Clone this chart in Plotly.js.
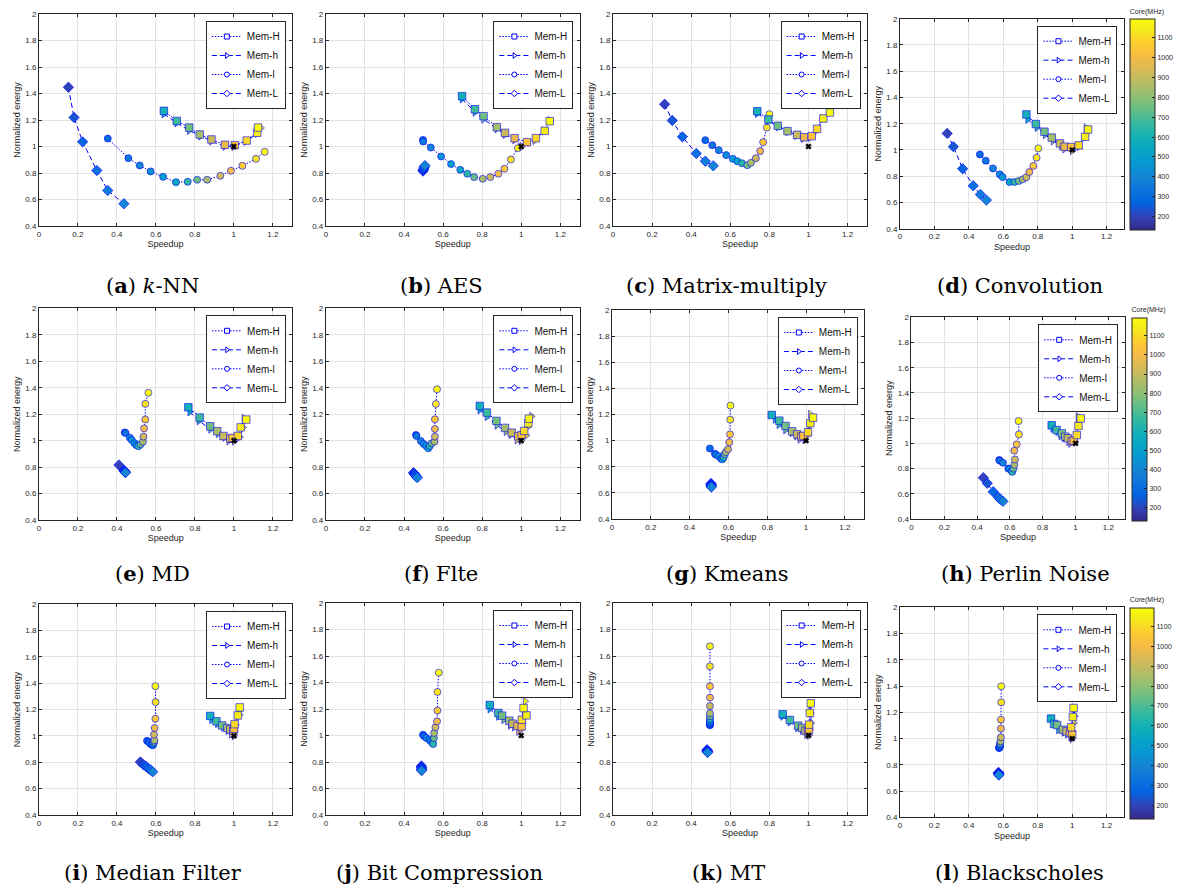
<!DOCTYPE html>
<html><head><meta charset="utf-8">
<script src="https://cdn.plot.ly/plotly-3.0.1.min.js"></script>
<style>html,body{margin:0;padding:0;background:#fff}</style>
</head><body><div id="chart" style="width:1177px;height:888px"></div>
<script>
// ---------------- DATA ----------------
const seriesNames = ['Mem-H', 'Mem-h', 'Mem-l', 'Mem-L'];
// core frequency (MHz) of each point, per memory level (ascending)
const freqH = [600, 680, 760, 840, 910, 980, 1040, 1100, 1150, 1190];
const freqh = [600, 680, 760, 840, 910, 980, 1040, 1100, 1150, 1190];
const freql = [300, 350, 400, 450, 500, 550, 650, 750, 850, 920, 990, 1060, 1130, 1190];
const freqL = [200, 240, 280, 320, 360, 400];
const colorbarTicks = [200, 300, 400, 500, 600, 700, 800, 900, 1000, 1100];
const refX = [1];
const refY = [1];

const captionLetters = ['a','b','c','d','e','f','g','h','i','j','k','l'];
const captionNames = ['<i>k</i>-NN','AES','Matrix-multiply','Convolution','MD','Flte','Kmeans','Perlin Noise','Median Filter','Bit Compression','MT','Blackscholes'];

// (a) k-NN
const knnHx = [0.641,0.707,0.771,0.825,0.885,0.954,1.005,1.066,1.12,1.124];
const knnHy = [1.269,1.193,1.143,1.09,1.053,1.013,1.01,1.045,1.103,1.143];
const knnhx = [0.641,0.707,0.771,0.829,0.885,0.954,1.0,1.063,1.12,1.139];
const knnhy = [1.246,1.178,1.121,1.078,1.04,1.0,1.0,1.04,1.098,1.14];
const knnlx = [0.353,0.459,0.517,0.573,0.637,0.703,0.763,0.812,0.863,0.931,0.985,1.044,1.114,1.158];
const knnly = [1.06,0.912,0.857,0.812,0.771,0.731,0.734,0.749,0.749,0.779,0.817,0.854,0.907,0.96];
const knnLx = [0.151,0.18,0.224,0.297,0.353,0.436];
const knnLy = [1.447,1.219,1.035,0.819,0.668,0.568];
// (b) AES
const aesHx = [0.697,0.763,0.807,0.875,0.917,0.966,1.029,1.075,1.12,1.146];
const aesHy = [1.38,1.281,1.229,1.146,1.103,1.063,1.033,1.063,1.118,1.191];
const aeshx = [0.697,0.763,0.807,0.875,0.917,0.966,1.003,1.069,1.117,1.147];
const aeshy = [1.359,1.259,1.206,1.133,1.09,1.05,1.0,1.045,1.118,1.196];
const aeslx = [0.497,0.498,0.537,0.59,0.641,0.688,0.724,0.759,0.803,0.842,0.883,0.914,0.947,0.983];
const aesly = [1.05,1.038,0.992,0.925,0.867,0.824,0.794,0.769,0.756,0.769,0.794,0.832,0.902,0.987];
const aesLx = [0.497,0.498,0.5,0.502,0.504,0.507];
const aesLy = [0.815,0.822,0.83,0.838,0.846,0.856];
// (c) Matrix-multiply
const mmHx = [0.738,0.795,0.843,0.893,0.942,0.978,1.017,1.044,1.076,1.11];
const mmHy = [1.266,1.204,1.156,1.116,1.088,1.07,1.078,1.133,1.211,1.256];
const mmhx = [0.738,0.795,0.846,0.897,0.939,0.973,1.01,1.042,1.073,1.108];
const mmhy = [1.249,1.196,1.148,1.113,1.083,1.06,1.068,1.121,1.211,1.279];
const mmlx = [0.472,0.508,0.541,0.579,0.613,0.636,0.66,0.687,0.706,0.731,0.753,0.768,0.787,0.8];
const mmly = [1.048,1.01,0.972,0.935,0.907,0.889,0.874,0.859,0.877,0.912,0.965,1.033,1.143,1.244];
const mmLx = [0.264,0.303,0.355,0.426,0.472,0.513];
const mmLy = [1.319,1.196,1.073,0.947,0.889,0.854];
// (d) Convolution
const convHx = [0.734,0.789,0.839,0.881,0.929,0.956,0.994,1.038,1.075,1.092];
const convHy = [1.271,1.197,1.139,1.094,1.05,1.025,1.022,1.035,1.1,1.156];
const convhx = [0.741,0.795,0.843,0.889,0.937,0.956,1.0,1.038,1.073,1.08];
const convhy = [1.233,1.17,1.116,1.068,1.032,1.007,0.994,1.025,1.1,1.168];
const convlx = [0.464,0.498,0.54,0.579,0.596,0.636,0.665,0.69,0.713,0.734,0.751,0.774,0.793,0.803];
const convly = [0.966,0.918,0.859,0.814,0.793,0.756,0.756,0.764,0.776,0.792,0.832,0.878,0.941,1.012];
const convLx = [0.274,0.31,0.364,0.425,0.467,0.502];
const convLy = [1.126,1.025,0.857,0.727,0.661,0.618];
// (e) MD
const mdHx = [0.766,0.824,0.878,0.914,0.946,0.981,0.993,1.02,1.034,1.063];
const mdHy = [1.252,1.174,1.108,1.071,1.035,1.015,1.02,1.035,1.1,1.159];
const mdhx = [0.773,0.82,0.88,0.919,0.953,0.973,1.002,1.03,1.047,1.051];
const mdhy = [1.217,1.149,1.086,1.053,1.025,0.997,0.995,1.028,1.1,1.169];
const mdlx = [0.44,0.444,0.466,0.476,0.49,0.5,0.51,0.522,0.533,0.536,0.539,0.545,0.545,0.561];
const mdly = [1.062,1.058,1.022,1.004,0.98,0.965,0.958,0.972,0.992,1.03,1.092,1.16,1.278,1.362];
const mdLx = [0.41,0.436,0.438,0.44,0.442,0.444];
const mdLy = [0.816,0.775,0.77,0.766,0.762,0.758];
// (f) Flte
const flteHx = [0.788,0.824,0.873,0.917,0.951,0.985,1.002,1.015,1.036,1.039];
const flteHy = [1.262,1.212,1.149,1.096,1.06,1.033,1.043,1.073,1.131,1.166];
const fltehx = [0.788,0.825,0.875,0.922,0.947,0.978,1.0,1.027,1.036,1.053];
const fltehy = [1.232,1.181,1.116,1.068,1.045,1.005,1.0,1.04,1.106,1.184];
const fltelx = [0.461,0.464,0.486,0.5,0.514,0.524,0.532,0.542,0.556,0.558,0.558,0.558,0.563,0.569];
const fltely = [1.043,1.035,0.997,0.975,0.96,0.942,0.96,0.98,0.992,1.03,1.088,1.161,1.277,1.388];
const flteLx = [0.448,0.452,0.456,0.46,0.464,0.468];
const flteLy = [0.757,0.75,0.742,0.735,0.727,0.72];
// (g) Kmeans
const kmHx = [0.823,0.862,0.894,0.928,0.954,0.976,0.986,1.01,1.022,1.036];
const kmHy = [1.196,1.153,1.112,1.071,1.048,1.031,1.036,1.064,1.133,1.176];
const kmhx = [0.84,0.86,0.894,0.928,0.951,0.968,0.993,1.01,1.019,1.022];
const kmhy = [1.163,1.122,1.082,1.061,1.036,1.01,1.005,1.043,1.117,1.202];
const kmlx = [0.504,0.53,0.536,0.55,0.562,0.568,0.575,0.58,0.586,0.598,0.604,0.608,0.609,0.61];
const kmly = [0.94,0.9,0.892,0.88,0.862,0.857,0.872,0.895,0.912,0.934,0.987,1.048,1.161,1.268];
const kmLx = [0.51,0.51,0.511,0.511,0.511,0.512];
const kmLy = [0.672,0.665,0.66,0.655,0.65,0.645];
// (h) Perlin Noise
const pnHx = [0.855,0.885,0.917,0.938,0.954,0.978,0.99,1.008,1.018,1.032];
const pnHy = [1.143,1.106,1.079,1.053,1.04,1.019,1.021,1.066,1.138,1.198];
const pnhx = [0.861,0.891,0.911,0.933,0.958,0.97,0.998,1.006,1.016,1.016];
const pnhy = [1.119,1.093,1.058,1.042,1.013,1.0,1.011,1.058,1.145,1.212];
const pnlx = [0.535,0.54,0.558,0.59,0.6,0.61,0.615,0.622,0.627,0.631,0.627,0.642,0.655,0.653];
const pnly = [0.868,0.862,0.846,0.8,0.797,0.783,0.774,0.8,0.83,0.872,0.942,0.992,1.071,1.177];
const pnLx = [0.438,0.462,0.498,0.53,0.542,0.558];
const pnLy = [0.728,0.683,0.617,0.572,0.556,0.54];
// (i) Median Filter
const mfHx = [0.878,0.91,0.939,0.966,0.981,0.997,1.0,1.003,1.02,1.029];
const mfHy = [1.151,1.11,1.079,1.059,1.049,1.039,1.054,1.089,1.155,1.216];
const mfhx = [0.885,0.915,0.946,0.969,0.986,1.0,1.003,1.01,1.029,1.032];
const mfhy = [1.122,1.092,1.064,1.039,1.014,1.0,1.034,1.085,1.16,1.198];
const mflx = [0.554,0.562,0.568,0.576,0.583,0.586,0.588,0.59,0.592,0.59,0.593,0.597,0.598,0.597];
const mfly = [0.963,0.955,0.944,0.934,0.929,0.934,0.945,0.954,0.966,1.009,1.06,1.13,1.256,1.377];
const mfLx = [0.52,0.537,0.551,0.563,0.573,0.583];
const mfLy = [0.802,0.78,0.766,0.751,0.741,0.728];
// (j) Bit Compression
const bcHx = [0.839,0.883,0.902,0.939,0.956,0.981,1.002,1.003,1.027,1.012];
const bcHy = [1.23,1.17,1.15,1.112,1.089,1.072,1.069,1.119,1.152,1.207];
const bchx = [0.839,0.883,0.91,0.944,0.964,0.986,0.998,1.007,1.015,1.02];
const bchy = [1.2,1.145,1.119,1.077,1.064,1.031,1.044,1.094,1.17,1.258];
const bclx = [0.497,0.503,0.515,0.529,0.537,0.546,0.549,0.553,0.554,0.561,0.569,0.571,0.571,0.578];
const bcly = [1.006,0.994,0.981,0.969,0.956,0.943,0.936,0.981,1.019,1.062,1.107,1.188,1.329,1.474];
const bcLx = [0.489,0.489,0.49,0.49,0.49,0.49];
const bcLy = [0.77,0.762,0.755,0.748,0.742,0.735];
// (k) MT
const mtHx = [0.868,0.905,0.947,0.968,0.985,0.998,1.003,1.003,1.007,1.012];
const mtHy = [1.16,1.117,1.074,1.057,1.036,1.031,1.045,1.082,1.17,1.243];
const mthx = [0.868,0.905,0.944,0.968,0.99,1.003,1.007,1.014,1.012,1.012];
const mthy = [1.145,1.102,1.057,1.039,1.006,1.001,1.044,1.094,1.17,1.233];
const mtlx = [0.496,0.496,0.496,0.496,0.496,0.496,0.496,0.496,0.496,0.496,0.496,0.496,0.496,0.496];
const mtly = [1.077,1.082,1.087,1.094,1.102,1.112,1.127,1.146,1.168,1.222,1.286,1.371,1.522,1.673];
const mtLx = [0.481,0.482,0.482,0.483,0.483,0.484];
const mtLy = [0.892,0.888,0.884,0.88,0.876,0.872];
// (l) Blackscholes
const bsHx = [0.877,0.895,0.912,0.946,0.967,0.987,1.0,0.994,1.004,1.008];
const bsHy = [1.152,1.111,1.103,1.067,1.055,1.043,1.03,1.086,1.164,1.233];
const bshx = [0.891,0.92,0.952,0.971,0.992,1.0,1.004,1.01,1.015,1.01];
const bshy = [1.113,1.067,1.047,1.035,1.01,0.999,1.055,1.119,1.17,1.233];
const bslx = [0.575,0.577,0.578,0.579,0.58,0.58,0.581,0.582,0.584,0.586,0.586,0.586,0.588,0.588];
const bsly = [0.928,0.93,0.932,0.934,0.94,0.948,0.956,0.966,0.979,1.01,1.076,1.144,1.276,1.398];
const bsLx = [0.572,0.572,0.573,0.573,0.574,0.574];
const bsLy = [0.742,0.738,0.734,0.73,0.726,0.722];

// ---------------- TABLE FOR PLOTTING ----------------
const panelData = [
  [[knnHx,knnHy],[knnhx,knnhy],[knnlx,knnly],[knnLx,knnLy]],
  [[aesHx,aesHy],[aeshx,aeshy],[aeslx,aesly],[aesLx,aesLy]],
  [[mmHx,mmHy],[mmhx,mmhy],[mmlx,mmly],[mmLx,mmLy]],
  [[convHx,convHy],[convhx,convhy],[convlx,convly],[convLx,convLy]],
  [[mdHx,mdHy],[mdhx,mdhy],[mdlx,mdly],[mdLx,mdLy]],
  [[flteHx,flteHy],[fltehx,fltehy],[fltelx,fltely],[flteLx,flteLy]],
  [[kmHx,kmHy],[kmhx,kmhy],[kmlx,kmly],[kmLx,kmLy]],
  [[pnHx,pnHy],[pnhx,pnhy],[pnlx,pnly],[pnLx,pnLy]],
  [[mfHx,mfHy],[mfhx,mfhy],[mflx,mfly],[mfLx,mfLy]],
  [[bcHx,bcHy],[bchx,bchy],[bclx,bcly],[bcLx,bcLy]],
  [[mtHx,mtHy],[mthx,mthy],[mtlx,mtly],[mtLx,mtLy]],
  [[bsHx,bsHy],[bshx,bshy],[bslx,bsly],[bsLx,bsLy]]
];
const seriesFreq = [freqH, freqh, freql, freqL];

// ---------------- STYLE / LAYOUT ----------------
const W = 1177, H = 888;
const BLUE = 'rgb(0,0,255)';
const symbols = ['square', 'triangle-right', 'circle', 'diamond'];
const sizes = [7.5, 7, 7, 8];
const dashes = ['1.5px,1.5px', '5px,3px', '1.5px,1.5px', '5px,3px'];
// MATLAB parula colormap (sampled)
const parula = [
  [0/63, 'rgb(53,42,135)'], [4/63, 'rgb(50,67,186)'], [8/63, 'rgb(3,99,225)'], [12/63, 'rgb(13,117,220)'],
  [16/63, 'rgb(20,133,212)'], [20/63, 'rgb(9,152,209)'], [24/63, 'rgb(6,167,198)'], [28/63, 'rgb(21,177,180)'],
  [32/63, 'rgb(56,185,158)'], [36/63, 'rgb(101,190,134)'], [40/63, 'rgb(146,191,115)'], [44/63, 'rgb(183,189,100)'],
  [48/63, 'rgb(217,186,86)'], [52/63, 'rgb(248,187,68)'], [56/63, 'rgb(252,206,46)'], [60/63, 'rgb(245,235,24)'],
  [1, 'rgb(249,251,14)']
];
// plot boxes in pixels: [left, right, top, bottom]
const boxes = [
  [39.3, 294.8, 14, 226], [328.7, 584.8, 14, 226], [618.3, 874.5, 14, 226], [907.7, 1133.5, 18.7, 228.7],
  [39.3, 295, 308.3, 520], [328.7, 584.8, 308.3, 520], [617.3, 871.7, 310, 519], [919.3, 1134.3, 317.3, 519],
  [39.3, 295, 604, 815], [328.7, 584.8, 603, 815], [618.3, 874.5, 603, 815], [907.7, 1133.5, 607.3, 817.3]
];
const cbBoxes = [[1140, 1165, 18.3, 229.3], [1141.7, 1156.7, 317, 520], [1140, 1164, 607, 818]];
const cbTitleRoom = 12.5;
const captionPos = [[154, 285], [445, 285], [733, 285], [1029, 285],
                    [154, 573], [445, 573], [734, 573], [1034, 573],
                    [154, 872], [443, 872], [735, 872], [1028, 872]];

const FONT = 'Liberation Sans, Arial, Helvetica, sans-serif';
const INK = '#262626';
const traces = [];
const layout = {
  width: W, height: H, margin: {l: 0, r: 0, t: 0, b: 0},
  paper_bgcolor: 'white', plot_bgcolor: 'white',
  font: {family: FONT, size: 8, color: INK},
  annotations: []
};
const px2x = p => p / W;
const px2y = p => 1 - p / H;

for (let r = 0; r < 3; r++) {
  const cb = cbBoxes[r];
  const key = r === 0 ? 'coloraxis' : 'coloraxis' + (r + 1);
  layout[key] = {
    colorscale: parula, cmin: 133, cmax: 1196,
    colorbar: {
      x: px2x(cb[0]), xanchor: 'left', xpad: 0, ypad: 0,
      thickness: cb[1] - cb[0], thicknessmode: 'pixels',
      len: (cb[3] - cb[2] + cbTitleRoom) / H, lenmode: 'fraction',
      y: px2y(cb[2] - cbTitleRoom), yanchor: 'top',
      outlinewidth: 1, outlinecolor: INK,
      tickvals: colorbarTicks, ticks: 'inside', ticklen: 3, tickcolor: INK,
      tickfont: {family: FONT, size: 7, color: INK},
      title: {text: 'Core(MHz)', side: 'top', font: {family: FONT, size: 7, color: INK}}
    }
  };
}

panelData.forEach((series, i) => {
  const s = i === 0 ? '' : String(i + 1);
  const b = boxes[i];
  const row = Math.floor(i / 4);
  const cax = row === 0 ? 'coloraxis' : 'coloraxis' + (row + 1);
  const axCommon = {
    showline: true, mirror: 'ticks', linecolor: INK, linewidth: 1,
    ticks: 'inside', ticklen: 3, tickcolor: INK, tickwidth: 1,
    showgrid: true, gridcolor: '#e3e3e3', gridwidth: 1, zeroline: false,
    tickfont: {family: FONT, size: 8, color: INK}, automargin: false, fixedrange: true
  };
  layout['xaxis' + s] = Object.assign({}, axCommon, {
    domain: [px2x(b[0]), px2x(b[1])], anchor: 'y' + s,
    range: [0, 1.3], tick0: 0, dtick: 0.2,
    title: {text: 'Speedup', font: {family: FONT, size: 9, color: INK}, standoff: 3}
  });
  layout['yaxis' + s] = Object.assign({}, axCommon, {
    domain: [px2y(b[3]), px2y(b[2])], anchor: 'x' + s,
    range: [0.4, 2], tick0: 0.4, dtick: 0.2,
    title: {text: 'Normalized energy', font: {family: FONT, size: 9, color: INK}, standoff: 3}
  });
  // data traces (drawn L, l, h, H so squares sit on top)
  [3, 2, 1, 0].forEach(k => {
    traces.push({
      type: 'scatter', mode: 'lines+markers',
      x: series[k][0], y: series[k][1],
      xaxis: 'x' + s, yaxis: 'y' + s, showlegend: false, name: seriesNames[k],
      line: {color: BLUE, width: 1, dash: dashes[k]},
      marker: {symbol: symbols[k], size: sizes[k], color: seriesFreq[k], coloraxis: cax,
               line: {color: BLUE, width: 0.6}}
    });
  });
  // reference point (1,1)
  traces.push({
    type: 'scatter', mode: 'markers', x: refX, y: refY,
    xaxis: 'x' + s, yaxis: 'y' + s, showlegend: false,
    marker: {symbol: 'x', size: 5, color: 'black', line: {color: 'black', width: 0.5}}
  });
  // legend entries
  const legKey = i === 0 ? 'legend' : 'legend' + (i + 1);
  [0, 1, 2, 3].forEach(k => {
    traces.push({
      type: 'scatter', mode: 'lines+markers', x: [null], y: [null],
      xaxis: 'x' + s, yaxis: 'y' + s, name: seriesNames[k], showlegend: true, legend: legKey,
      line: {color: BLUE, width: 1, dash: dashes[k]},
      marker: {symbol: symbols[k], size: 5, color: 'white', line: {color: BLUE, width: 1}}
    });
  });
  layout[legKey] = {
    x: px2x(b[1] - 6.5), xanchor: 'right', y: px2y(b[2] + 7), yanchor: 'top',
    bgcolor: 'white', bordercolor: INK, borderwidth: 1,
    font: {family: FONT, size: 10, color: '#111'}, itemwidth: 30, tracegroupgap: 0,
    traceorder: 'normal'
  };
  // caption
  layout.annotations.push({
    xref: 'paper', yref: 'paper', x: px2x(captionPos[i][0]), y: px2y(captionPos[i][1]),
    xanchor: 'center', yanchor: 'middle', showarrow: false,
    text: '(<b>' + captionLetters[i] + '</b>) ' + captionNames[i],
    font: {family: 'DejaVu Serif, serif', size: 21, color: 'black'}
  });
});

Plotly.newPlot('chart', traces, layout, {displayModeBar: false, staticPlot: true});
</script>
</body></html>
